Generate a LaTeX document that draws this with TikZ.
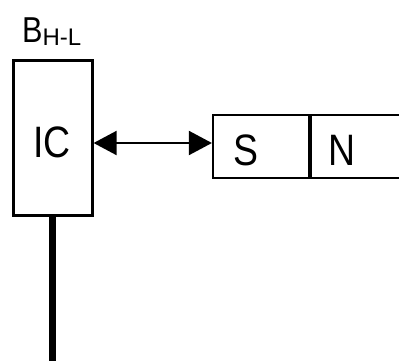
\documentclass[tikz,border=0pt]{standalone}
\usepackage{fontspec}
\newfontfamily\narrowsans[FakeStretch=0.85]{Liberation Sans}
\newfontfamily\plainsans{Liberation Sans}
\usetikzlibrary{arrows.meta}
\tikzset{
  part/.style={draw,line width=2.2pt,inner sep=0pt},
  lbl/.style={inner sep=0pt,font=\narrowsans\fontsize{44}{44}\selectfont},
  dbl/.style={line width=2pt,{Triangle[length=23pt,width=24pt]}-{Triangle[length=23pt,width=24pt]}}
}
\begin{document}
\begin{tikzpicture}[x=1pt,y=-1pt]
                \useasboundingbox (0,0) rectangle (399,360);
                \node[part,minimum width=79pt,minimum height=155pt] (ic) at (53,138) {};
                \node[lbl] (iclbl) at (52,142) {IC};
                \node[part,minimum width=96pt,minimum height=63pt] (s) at (261,146.5) {};
                \node[part,minimum width=110pt,minimum height=63pt,anchor=west] (n) at (s.east) {};
                \node[lbl] (slbl) at (246,150.5) {S};
                \node[lbl] (nlbl) at (342,150.5) {N};
                \node[inner sep=0pt,anchor=base west,font=\narrowsans\fontsize{36}{36}\selectfont] (bhl) at (22,42) {B\raisebox{-3pt}{\plainsans\fontsize{24}{24}\selectfont H-L}};
                \coordinate (arr) at (150,143);
                \draw[dbl] (ic.east |- arr) -- (s.west |- arr);
                \coordinate (foot) at (52.5,362);
                \draw[line width=7pt] (ic.south -| foot) -- (foot);
            \end{tikzpicture}
\end{document}
